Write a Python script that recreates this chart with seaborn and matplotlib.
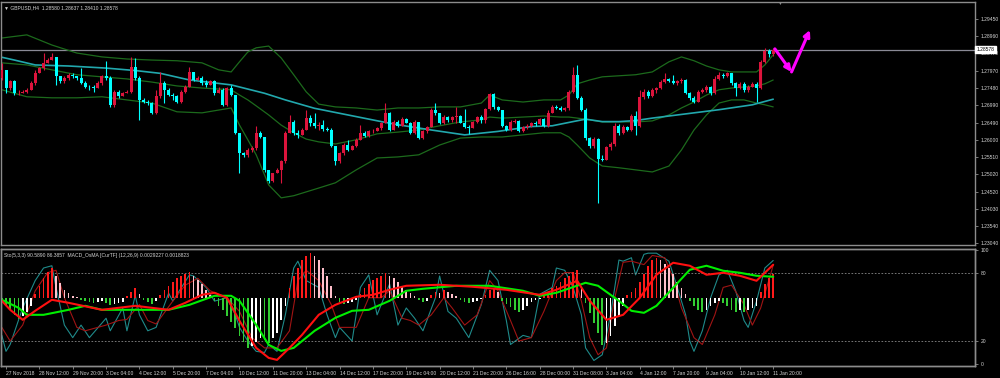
import numpy as np
import matplotlib
matplotlib.use("Agg")
import matplotlib.pyplot as plt
import seaborn as sns

# GBPUSD H4 candles, 27 Nov 2018 .. 11 Jan 2019
# open of each bar = close of the bar before
first_open = 1.2776
close = [1.2800, 1.2747, 1.2767, 1.2733, 1.2735, 1.2738, 1.2743, 1.2762, 1.2790, 1.2805,
         1.2819, 1.2828, 1.2838, 1.2781, 1.2767, 1.2776, 1.2786, 1.2781, 1.2776, 1.2762,
         1.2752, 1.2750, 1.2747, 1.2762, 1.2781, 1.2776, 1.2700, 1.2738, 1.2724, 1.2733,
         1.2738, 1.2809, 1.2776, 1.2714, 1.2709, 1.2705, 1.2676, 1.2724, 1.2762, 1.2743,
         1.2728, 1.2724, 1.2709, 1.2738, 1.2752, 1.2795, 1.2771, 1.2776, 1.2762, 1.2757,
         1.2767, 1.2733, 1.2743, 1.2700, 1.2747, 1.2728, 1.2619, 1.2562, 1.2557, 1.2571,
         1.2576, 1.2619, 1.2609, 1.2514, 1.2481, 1.2505, 1.2514, 1.2538, 1.2619, 1.2652,
         1.2619, 1.2614, 1.2628, 1.2662, 1.2647, 1.2638, 1.2643, 1.2630, 1.2628, 1.2581,
         1.2538, 1.2562, 1.2585, 1.2571, 1.2581, 1.2600, 1.2619, 1.2611, 1.2624, 1.2626,
         1.2633, 1.2649, 1.2676, 1.2628, 1.2652, 1.2640, 1.2659, 1.2649, 1.2619, 1.2652,
         1.2604, 1.2624, 1.2636, 1.2686, 1.2676, 1.2647, 1.2666, 1.2657, 1.2665, 1.2668,
         1.2649, 1.2636, 1.2633, 1.2652, 1.2665, 1.2657, 1.2687, 1.2731, 1.2695, 1.2686,
         1.2640, 1.2628, 1.2652, 1.2655, 1.2624, 1.2636, 1.2640, 1.2649, 1.2645, 1.2659,
         1.2640, 1.2678, 1.2695, 1.2690, 1.2684, 1.2690, 1.2738, 1.2786, 1.2719, 1.2686,
         1.2604, 1.2581, 1.2602, 1.2544, 1.2543, 1.2579, 1.2588, 1.2640, 1.2619, 1.2636,
         1.2628, 1.2668, 1.2640, 1.2722, 1.2738, 1.2724, 1.2741, 1.2747, 1.2764, 1.2773,
         1.2767, 1.2762, 1.2767, 1.2771, 1.2733, 1.2719, 1.2709, 1.2738, 1.2743, 1.2750,
         1.2733, 1.2773, 1.2786, 1.2781, 1.2790, 1.2762, 1.2747, 1.2760, 1.2741, 1.2752,
         1.2760, 1.2747, 1.2821, 1.2855, 1.2845, 1.28578]
high = [1.2819, 1.2800, 1.2771, 1.2771, 1.2743, 1.2743, 1.2747, 1.2767, 1.2800, 1.2809,
        1.2848, 1.2833, 1.2848, 1.2838, 1.2781, 1.2781, 1.2790, 1.2790, 1.2781, 1.2805,
        1.2767, 1.2757, 1.2757, 1.2767, 1.2786, 1.2824, 1.2781, 1.2743, 1.2743, 1.2738,
        1.2743, 1.2838, 1.2833, 1.2781, 1.2719, 1.2714, 1.2709, 1.2743, 1.2795, 1.2767,
        1.2747, 1.2733, 1.2728, 1.2743, 1.2757, 1.2809, 1.2795, 1.2781, 1.2781, 1.2771,
        1.2771, 1.2771, 1.2752, 1.2747, 1.2752, 1.2757, 1.2728, 1.2619, 1.2566, 1.2576,
        1.2581, 1.2638, 1.2624, 1.2609, 1.2514, 1.2506, 1.2519, 1.2543, 1.2624, 1.2671,
        1.2657, 1.2628, 1.2633, 1.2686, 1.2671, 1.2676, 1.2652, 1.2657, 1.2636, 1.2633,
        1.2583, 1.2566, 1.2590, 1.2600, 1.2585, 1.2604, 1.2643, 1.2626, 1.2628, 1.2630,
        1.2636, 1.2652, 1.2705, 1.2680, 1.2657, 1.2657, 1.2665, 1.2662, 1.2652, 1.2657,
        1.2652, 1.2628, 1.2640, 1.2690, 1.2705, 1.2678, 1.2671, 1.2668, 1.2668, 1.2695,
        1.2672, 1.2688, 1.2643, 1.2655, 1.2668, 1.2671, 1.2690, 1.2733, 1.2735, 1.2698,
        1.2686, 1.2643, 1.2657, 1.2659, 1.2657, 1.2640, 1.2645, 1.2652, 1.2655, 1.2662,
        1.2662, 1.2684, 1.2700, 1.2700, 1.2697, 1.2695, 1.2743, 1.2809, 1.2814, 1.2724,
        1.2690, 1.2609, 1.2607, 1.2604, 1.2557, 1.2583, 1.2595, 1.2647, 1.2645, 1.2643,
        1.2640, 1.2674, 1.2681, 1.2741, 1.2745, 1.2743, 1.2747, 1.2752, 1.2771, 1.2790,
        1.2776, 1.2786, 1.2771, 1.2776, 1.2773, 1.2738, 1.2726, 1.2743, 1.2747, 1.2757,
        1.2754, 1.2781, 1.2795, 1.2790, 1.2795, 1.2792, 1.2764, 1.2764, 1.2764, 1.2757,
        1.2764, 1.2764, 1.2828, 1.2862, 1.2859, 1.28637]
low = [1.2771, 1.2733, 1.2743, 1.2728, 1.2728, 1.2733, 1.2733, 1.2743, 1.2757, 1.2790,
       1.2800, 1.2819, 1.2828, 1.2757, 1.2762, 1.2762, 1.2771, 1.2776, 1.2771, 1.2759,
       1.2747, 1.2743, 1.2738, 1.2747, 1.2757, 1.2771, 1.2695, 1.2695, 1.2719, 1.2724,
       1.2733, 1.2733, 1.2771, 1.2657, 1.2705, 1.2700, 1.2674, 1.2674, 1.2719, 1.2705,
       1.2724, 1.2714, 1.2705, 1.2705, 1.2733, 1.2752, 1.2769, 1.2771, 1.2757, 1.2752,
       1.2757, 1.2728, 1.2733, 1.2698, 1.2698, 1.2724, 1.2617, 1.2505, 1.2552, 1.2552,
       1.2566, 1.2571, 1.2604, 1.2509, 1.2476, 1.2478, 1.2505, 1.2476, 1.2533, 1.2619,
       1.2614, 1.2604, 1.2614, 1.2628, 1.2638, 1.2633, 1.2628, 1.2626, 1.2624, 1.2579,
       1.2528, 1.2533, 1.2557, 1.2569, 1.2571, 1.2579, 1.2600, 1.2609, 1.2609, 1.2619,
       1.2624, 1.2628, 1.2647, 1.2626, 1.2628, 1.2636, 1.2638, 1.2647, 1.2617, 1.2617,
       1.2602, 1.2602, 1.2619, 1.2636, 1.2671, 1.2645, 1.2645, 1.2652, 1.2652, 1.2647,
       1.2647, 1.2633, 1.2617, 1.2633, 1.2649, 1.2647, 1.2647, 1.2686, 1.2687, 1.2681,
       1.2636, 1.2624, 1.2626, 1.2647, 1.2621, 1.2621, 1.2630, 1.2636, 1.2640, 1.2643,
       1.2636, 1.2636, 1.2676, 1.2687, 1.2681, 1.2681, 1.2684, 1.2733, 1.2716, 1.2681,
       1.2600, 1.2576, 1.2576, 1.2419, 1.2538, 1.2541, 1.2571, 1.2583, 1.2614, 1.2617,
       1.2624, 1.2624, 1.2614, 1.2636, 1.2716, 1.2719, 1.2722, 1.2735, 1.2745, 1.2762,
       1.2764, 1.2760, 1.2757, 1.2762, 1.2731, 1.2714, 1.2705, 1.2707, 1.2733, 1.2738,
       1.2728, 1.2731, 1.2771, 1.2776, 1.2779, 1.2757, 1.2724, 1.2745, 1.2738, 1.2738,
       1.2750, 1.2709, 1.2745, 1.2819, 1.2838, 1.28410]

# cyan moving average, sampled at bar index
ma_idx = [0, 3, 8, 16, 25, 32, 38, 45, 55, 63, 68, 75, 83, 91, 95, 103, 111, 119,
          127, 132, 137, 140, 144, 148, 152, 156, 164, 172, 180, 185]
ma_val = [1.2836, 1.2828, 1.2814, 1.2811, 1.2805, 1.2798, 1.2790, 1.2771, 1.2757,
          1.2733, 1.2714, 1.2690, 1.2671, 1.2652, 1.2643, 1.2628, 1.2614, 1.2624,
          1.2638, 1.2640, 1.2652, 1.2659, 1.2652, 1.2652, 1.2655, 1.2662, 1.2674,
          1.2686, 1.2700, 1.2716]

# Bollinger bands (dark green), sampled at bar index
bb_idx = [0, 6, 12, 18, 24, 30, 36, 42, 48, 52, 55, 57, 59, 61, 64, 67, 70, 73, 76,
          80, 85, 90, 95, 100, 105, 110, 115, 117, 120, 125, 130, 134, 136, 138, 141,
          144, 148, 152, 156, 160, 163, 166, 169, 172, 175, 178, 181, 183, 185]
bb_up = [1.2891, 1.2900, 1.2871, 1.2848, 1.2837, 1.2831, 1.2828, 1.2826, 1.2820,
         1.2800, 1.2794, 1.2823, 1.2851, 1.2863, 1.2868, 1.2834, 1.2786, 1.2737,
         1.2702, 1.2694, 1.2691, 1.2685, 1.2691, 1.2691, 1.2694, 1.2694, 1.2705,
         1.2728, 1.2714, 1.2708, 1.2714, 1.2714, 1.2728, 1.2760, 1.2771, 1.2780,
         1.2783, 1.2786, 1.2794, 1.2823, 1.2837, 1.2826, 1.2811, 1.2800, 1.2794,
         1.2794, 1.2794, 1.2814, 1.2843]
bb_mid = [1.2820, 1.2814, 1.2800, 1.2786, 1.2780, 1.2774, 1.2765, 1.2754, 1.2748,
          1.2745, 1.2743, 1.2728, 1.2714, 1.2697, 1.2671, 1.2642, 1.2620, 1.2602,
          1.2594, 1.2588, 1.2600, 1.2617, 1.2622, 1.2628, 1.2640, 1.2651, 1.2657,
          1.2665, 1.2662, 1.2665, 1.2668, 1.2665, 1.2665, 1.2662, 1.2657, 1.2651,
          1.2651, 1.2651, 1.2654, 1.2671, 1.2691, 1.2708, 1.2728, 1.2743, 1.2748,
          1.2751, 1.2754, 1.2760, 1.2771]
bb_low = [1.2743, 1.2723, 1.2720, 1.2720, 1.2723, 1.2714, 1.2705, 1.2680, 1.2677,
          1.2685, 1.2691, 1.2642, 1.2600, 1.2557, 1.2471, 1.2434, 1.2440, 1.2451,
          1.2462, 1.2477, 1.2514, 1.2548, 1.2551, 1.2557, 1.2585, 1.2605, 1.2608,
          1.2608, 1.2608, 1.2614, 1.2620, 1.2620, 1.2608, 1.2585, 1.2548, 1.2525,
          1.2520, 1.2514, 1.2508, 1.2525, 1.2571, 1.2628, 1.2671, 1.2705, 1.2714,
          1.2714, 1.2705, 1.2700, 1.2694]

# Stochastic (5,3,3): main and signal, sampled at bar index
stk_idx = [0, 1, 2, 5, 8, 10, 12, 13, 15, 17, 19, 21, 25, 26, 29, 30, 32, 33, 35, 37,
           40, 41, 45, 46, 49, 51, 54, 56, 57, 59, 61, 63, 64, 66, 68, 70, 71, 73, 76,
           78, 80, 81, 84, 86, 88, 90, 93, 95, 97, 99, 101, 104, 105, 107, 109, 112,
           115, 117, 119, 121, 122, 125, 127, 129, 132, 133, 135, 137, 139, 140, 142,
           144, 146, 148, 149, 151, 152, 154, 155, 157, 160, 162, 164, 165, 166, 168,
           170, 172, 174, 176, 178, 179, 181, 183, 185]
stk_val = [25, 11, 17, 49, 73, 84, 86, 67, 34, 23, 34, 23, 40, 29, 49, 29, 60, 43, 29, 32,
           62, 55, 78, 77, 67, 55, 58, 43, 32, 20, 11, 10, 17, 11, 43, 84, 90, 73, 67,
           43, 23, 32, 20, 67, 78, 43, 70, 34, 49, 40, 29, 58, 77, 46, 40, 23,
           52, 82, 73, 38, 17, 25, 23, 61, 67, 84, 82, 67, 43, 14, 3,
           8, 43, 91, 90, 93, 78, 96, 97, 97, 90, 67, 43, 20, 11, 29,
           58, 78, 82, 64, 38, 32, 55, 84, 90.6]
std_idx = [0, 2, 5, 8, 11, 13, 15, 18, 20, 23, 25, 28, 30, 33, 35, 37, 41, 44, 47, 50,
           54, 57, 60, 63, 66, 69, 71, 73, 76, 79, 81, 85, 88, 91, 93, 96, 98, 100, 103,
           106, 108, 111, 114, 117, 119, 122, 124, 127, 130, 133, 135, 137, 139, 141,
           143, 145, 147, 149, 151, 154, 156, 159, 161, 163, 166, 168, 171, 173, 175,
           178, 180, 182, 185]
std_val = [32, 20, 34, 64, 80, 82, 58, 32, 29, 32, 34, 38, 39, 52, 38, 35, 55, 69, 75, 64,
           58, 46, 23, 14, 14, 29, 73, 82, 73, 52, 32, 32, 58, 58, 64, 40, 38, 34, 43,
           58, 49, 34, 43, 73, 64, 38, 20, 23, 46, 73, 80, 80, 55, 23,
           8, 14, 58, 89, 90, 87, 95, 93, 75, 49, 23, 17, 43, 67, 69,
           52, 34, 49, 86.4]

# MACD_OsMA (12,26,9), values in 1e-4 units
osma = [-3, -7, -12, -17, -21, -18, -14, -8, 4, 12,
        20, 26, 30, 22, 15, 8, 5, 2, 1, -2,
        -3, -4, -5, -4, -3, -5, -7, -6, -5, -4,
        2, 6, 10, 4, -2, -4, -6, -3, 3, 8,
        12, 16, 20, 22, 24, 26, 22, 18, 14, 8,
        3, -3, -8, -12, -18, -24, -30, -38, -44, -50,
        -48, -44, -40, -42, -45, -40, -35, -22, -8, 10,
        22, 30, 38, 42, 45, 42, 38, 30, 22, 12,
        2, -4, -6, -5, -4, -2, 4, 10, 14, 18,
        20, 22, 25, 22, 20, 16, 12, 8, 5, 2,
        -2, -4, -3, 3, 6, 5, 8, 6, 4, 2,
        -2, -4, -5, -4, -3, -1, 3, 8, 10, 6,
        -3, -6, -9, -12, -14, -12, -8, -4, -2, -1,
        2, 6, 10, 12, 16, 20, 22, 26, 28, 10,
        -5, -15, -25, -35, -47, -45, -38, -28, -18, -8,
        3, 6, 10, 16, 24, 32, 38, 40, 38, 34,
        30, 24, 16, 10, 4, -3, -8, -12, -14, -12,
        -8, -5, -3, -5, -8, -12, -14, -12, -14, -12,
        -10, -8, 6, 14, 20, 24]
macd_idx = [0, 2, 5, 8, 12, 16, 24, 32, 40, 44, 48, 51, 54, 57, 61, 64, 66, 69, 72, 76,
            80, 85, 89, 93, 97, 105, 113, 121, 129, 133, 138, 141, 145, 149, 153, 157,
            161, 165, 169, 173, 177, 181, 185]
macd_val = [-3, -12, -22, -13, -2, -5, -12, -8, -12, -5, 3, 5, 0, -23, -50, -60, -62, -50,
            -37, -17, -7, 1, 3, 8, 12, 13, 11, 8, 3, 8, 17, -3, -22, -17, 0, 23,
            35, 32, 23, 25, 22, 17, 33]
sig_idx = [0, 4, 6, 10, 16, 20, 24, 32, 40, 45, 51, 55, 57, 61, 64, 67, 70, 75, 80, 84,
           88, 93, 97, 101, 109, 117, 125, 129, 133, 140, 143, 148, 151, 154, 157, 161,
           165, 169, 173, 177, 181, 185]
sig_val = [-2, -10, -17, -17, -12, -8, -12, -12, -12, -7, 2, 2, -3, -27, -47, -53, -50,
           -33, -20, -13, -12, -3, 7, 9, 12, 12, 7, 2, 5, 15, 12, -3, -13, -15, -8, 10,
           28, 32, 27, 25, 22, 21]

time_labels = ["27 Nov 2018", "28 Nov 12:00", "29 Nov 20:00", "3 Dec 04:00", "4 Dec 12:00",
               "5 Dec 20:00", "7 Dec 04:00", "10 Dec 12:00", "11 Dec 20:00", "13 Dec 04:00",
               "14 Dec 12:00", "17 Dec 20:00", "19 Dec 04:00", "20 Dec 12:00", "21 Dec 20:00",
               "26 Dec 16:00", "28 Dec 00:00", "31 Dec 08:00", "3 Jan 04:00", "4 Jan 12:00",
               "7 Jan 20:00", "9 Jan 04:00", "10 Jan 12:00", "11 Jan 20:00"]
price_ticks = [1.29450, 1.28960, 1.28470, 1.27970, 1.27480, 1.26990, 1.26490,
               1.26000, 1.25510, 1.25020, 1.24520, 1.24030, 1.23540, 1.23040]
last_price = 1.28578

# hand-drawn magenta arrow (bar index, price)
arrow_x = [185.4, 189.4, 193.8]
arrow_y = [1.2860, 1.2794, 1.2914]

# ---------------------------------------------------------------
sns.set_style("dark", {"axes.facecolor": "black", "figure.facecolor": "black"})
plt.rcParams['font.family'] = ['Liberation Sans', 'DejaVu Sans']

BULL, BEAR = '#dc143c', '#00ffff'
TXT = '#d4d4d4'
FRAME = '#8c8c8c'
FS = 3.6

close = np.array(close)
high = np.array(high)
low = np.array(low)
opn = np.r_[first_open, close[:-1]]
idx = np.arange(len(close))
col = np.where(close >= opn, BULL, BEAR)

fig = plt.figure(figsize=(10, 3.78), dpi=100, facecolor='black')
ax = fig.add_axes([0.001, 0.352, 0.974, 0.643])
ax2 = fig.add_axes([0.001, 0.032, 0.974, 0.31])

# main chart
ax.vlines(idx, low, high, colors=col, lw=0.8, zorder=3)
body = np.maximum(np.abs(close - opn), 0.00004)
ax.bar(idx, body, bottom=np.minimum(opn, close), width=0.72, color=col, lw=0, zorder=4)

for band in (bb_up, bb_mid, bb_low):
    sns.lineplot(x=bb_idx, y=band, ax=ax, color='#1c6a1c', linewidth=0.9, zorder=2)
sns.lineplot(x=ma_idx, y=ma_val, ax=ax, color='#22a8ad', linewidth=1.2, zorder=2)
ax.axhline(last_price, color='#8a8a96', lw=0.9, zorder=1)

for k in range(2):
    ax.annotate('', xy=(arrow_x[k + 1], arrow_y[k + 1]), xytext=(arrow_x[k], arrow_y[k]),
                arrowprops=dict(arrowstyle='-|>', color='#ff00ff', lw=2.2,
                                mutation_scale=9, shrinkA=0, shrinkB=0), zorder=6)

ax.set_xlim(-0.2, 233.4)
ax.set_ylim(1.22993, 1.29943)
ax.set_xticks([])
ax.yaxis.tick_right()
ax.set_yticks(price_ticks)
ax.set_yticklabels([f"{t:.5f}" for t in price_ticks])
ax.tick_params(axis='y', colors=FRAME, labelcolor=TXT, labelsize=FS, length=2.5,
               width=0.6, pad=1.5, right=True, left=False)
ax.text(1.0015, last_price, f"{last_price:.5f}", transform=ax.get_yaxis_transform(),
        fontsize=FS, color='black', va='center', ha='left', clip_on=False, zorder=10,
        bbox=dict(boxstyle='square,pad=0.25', fc='white', ec='white'))
ax.text(186.6, 1.2990, '\u25bc', fontsize=3.5, color='#8c8c8c', ha='center', va='center')
ax.set_xlabel('')
ax.set_ylabel('')

# lower window: stochastic + MACD_OsMA (own scale on a twin axis)
ax3 = ax2.twinx()
sns.lineplot(x=stk_idx, y=stk_val, ax=ax2, color='#1f8a8a', linewidth=0.8)
sns.lineplot(x=std_idx, y=std_val, ax=ax2, color='#a01414', linewidth=0.8)
for lvl in (20, 80):
    ax2.axhline(lvl, color='#8a8a8a', lw=0.6, ls=(0, (2, 2)))
ax2.set_xlim(-0.2, 233.4)
ax2.set_ylim(-1.75, 100.9)
ax2.yaxis.tick_right()
ax2.yaxis.set_label_position('right')
ax2.set_yticks([0, 20, 80, 100])
ax2.set_yticklabels(['0', '20', '80', '100'])
ax2.tick_params(axis='y', colors=FRAME, labelcolor=TXT, labelsize=FS, length=2.5,
                width=0.6, pad=1.5, right=True, left=False, labelright=True, labelleft=False)
ax2.set_xticks(np.arange(1, len(close) + 1, 8))
ax2.set_xticklabels(time_labels)
ax2.tick_params(axis='x', colors=FRAME, labelcolor=TXT, labelsize=FS, length=2.5,
                width=0.6, pad=1, bottom=True)
for t in ax2.get_xticklabels():
    t.set_ha('left')
ax2.set_xlabel('')
ax2.set_ylabel('')

osma = np.array(osma)
prev = np.r_[osma[0], osma[:-1]]
hcol = np.where(osma >= 0, np.where(osma >= prev, '#ff1a1a', '#ffc0cb'),
                np.where(osma <= prev, '#32cd32', '#ffffff'))
ax3.bar(idx, osma, width=0.4, color=hcol, lw=0)
sns.lineplot(x=sig_idx, y=sig_val, ax=ax3, color='#00ee00', linewidth=1.5)
sns.lineplot(x=macd_idx, y=macd_val, ax=ax3, color='#ff1010', linewidth=1.5)
ax3.set_ylim(-68, 49)
ax3.set_xlim(-0.2, 233.4)
ax3.set_yticks([])
ax3.tick_params(axis='y', left=False, right=False, labelleft=False, labelright=False)
ax3.set_ylabel('')

for a in (ax, ax2, ax3):
    for s in a.spines.values():
        s.set_color(FRAME)
        s.set_linewidth(1)
    a.grid(False)

fig.text(0.004, 0.979, "\u25bc GBPUSD,H4  1.28580 1.28637 1.28410 1.28578",
         color=TXT, fontsize=FS, va='center', ha='left')
fig.text(0.004, 0.323, "Sto(5,3,3) 90.5890 86.3857  MACD_OsMA [CurTF] (12,26,9) 0.0029227 0.0018823",
         color=TXT, fontsize=FS, va='center', ha='left')

fig.savefig('out.png', dpi=100, facecolor='black')
